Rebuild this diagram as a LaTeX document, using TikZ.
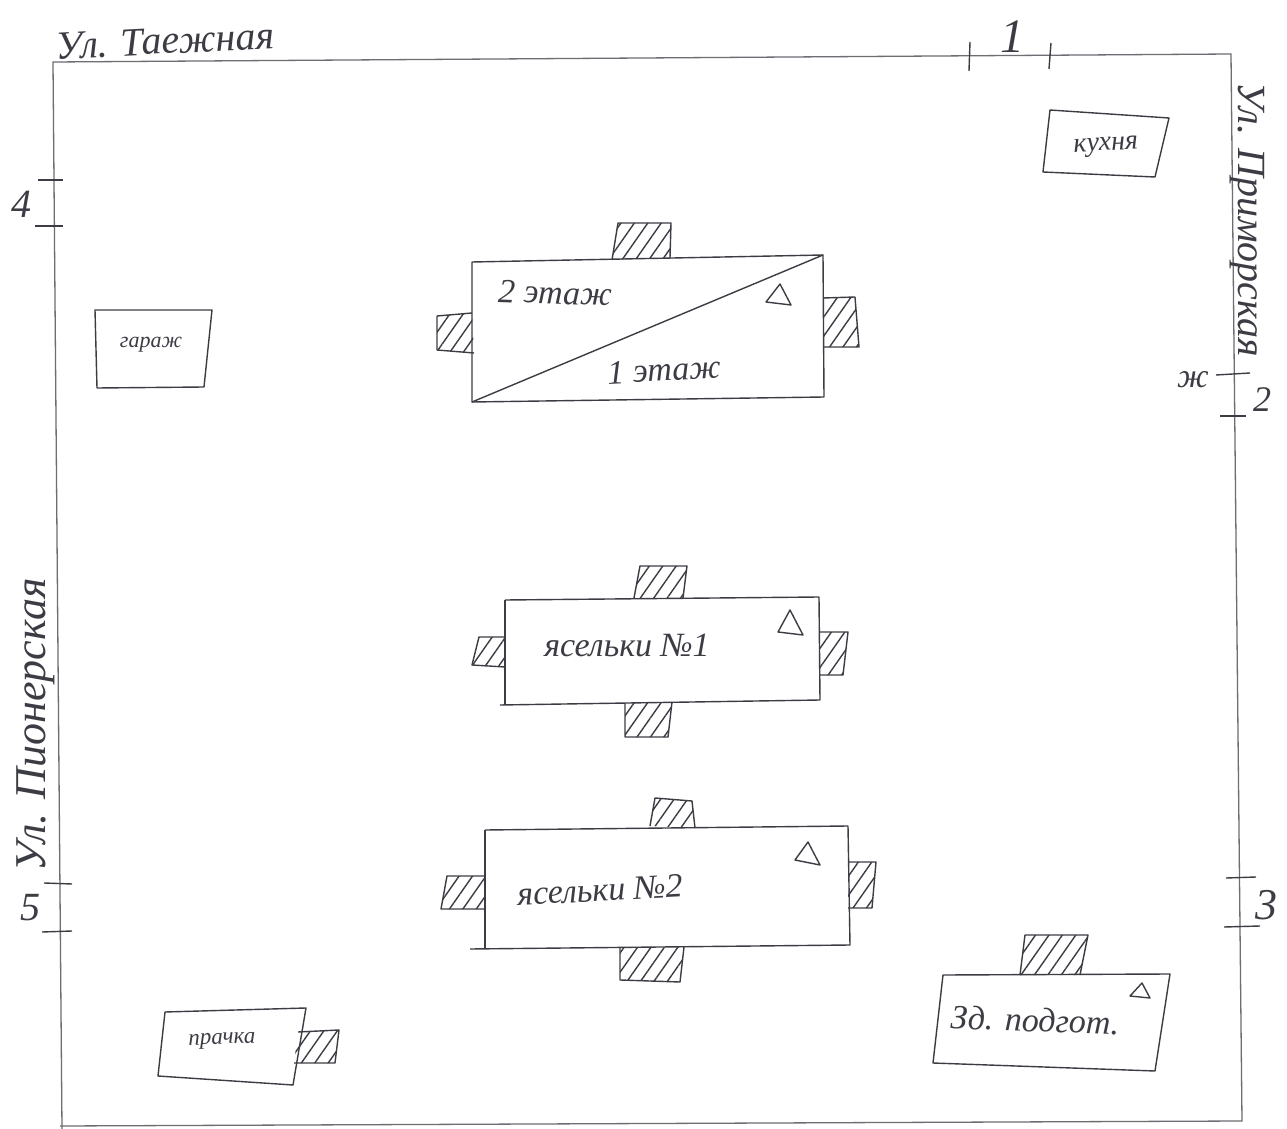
\documentclass[tikz,border=0pt]{standalone}
\usepackage{fontspec}
\setmainfont{Liberation Serif}
\usetikzlibrary{patterns.meta}
\definecolor{ink}{HTML}{3C3C44}
\tikzset{
  x=0.5pt,y=-0.5pt,
  frameline/.style={draw=ink!75,line width=0.65pt},
  wall/.style={draw=ink,line width=0.7pt,line join=round},
  tick/.style={draw=ink,line width=0.7pt},
  hatchbox/.style={draw=ink,line width=0.7pt,line join=round,pattern={Lines[angle=55,distance=#1,line width=0.7pt]},pattern color=ink},
  hatchbox/.default=5.5pt,
  hand/.style={inner sep=0pt,text=ink,font=\itshape\fontsize{#1}{#1}\selectfont},
  hand/.default=15pt,
  tri/.style={draw=ink,line width=0.7pt,line join=round}
}
\begin{document}
\begin{tikzpicture}
\useasboundingbox[fill=white] (0,0) rectangle (1287,1129);
% site boundary
\draw[frameline] (62,1129) -- (53,62) -- (1231,54) -- (1242,1121) -- (60,1126);
% gate ticks
\draw[tick] (970,42) -- (969,71);
\draw[tick] (1051,43) -- (1049,69);
\draw[tick] (1216,375) -- (1250,373);
\draw[tick] (1220,416) -- (1246,416);
\draw[tick] (1226,878) -- (1256,877);
\draw[tick] (1224,927) -- (1260,926);
\draw[tick] (38,180) -- (63,180);
\draw[tick] (35,226) -- (63,226);
\draw[tick] (44,883) -- (72,884);
\draw[tick] (42,932) -- (72,931);
% main building
\draw[hatchbox] (612,260) -- (618,223) -- (671,223) -- (670,258);
\draw[hatchbox] (472,313) -- (437,316) -- (437,350) -- (474,353);
\draw[hatchbox] (823,298) -- (855,297) -- (859,347) -- (823,347);
\draw[wall] (472,262) -- (823,255) -- (824,397) -- (472,402) -- cycle;
\draw[wall] (472,402) -- (823,255);
\draw[tri] (766,302) -- (780,284) -- (791,305) -- cycle;
\node[hand=17pt,rotate=-2] (floortwo) at (555,293) {2 этаж};
\node[hand=17pt,rotate=3] (floorone) at (664,370) {1 этаж};
% nursery 1
\draw[hatchbox] (634,598) -- (640,566) -- (687,566) -- (683,598);
\draw[hatchbox] (505,637) -- (479,637) -- (472,665) -- (505,667);
\draw[hatchbox] (819,632) -- (848,632) -- (843,675) -- (819,675);
\draw[hatchbox] (625,703) -- (625,737) -- (668,737) -- (672,702);
\draw[wall] (505,600) -- (819,597) -- (820,700) -- (500,705);
\draw[wall] (505,600) -- (505,705);
\draw[tri] (778,632) -- (790,610) -- (803,635) -- cycle;
\node[hand=17pt] (nursone) at (627,645) {ясельки №1};
% nursery 2
\draw[hatchbox] (650,826) -- (655,798) -- (692,801) -- (695,828);
\draw[hatchbox] (485,876) -- (447,876) -- (441,909) -- (485,909);
\draw[hatchbox] (848,862) -- (876,862) -- (872,908) -- (848,908);
\draw[hatchbox] (620,948) -- (620,980) -- (680,982) -- (684,947);
\draw[wall] (485,830) -- (848,826) -- (850,945) -- (470,949);
\draw[wall] (485,830) -- (485,949);
\draw[tri] (795,860) -- (808,842) -- (820,865) -- cycle;
\node[hand=17pt,rotate=3] (nurstwo) at (600,890) {ясельки №2};
% small buildings
\draw[wall] (1050,110) -- (1169,118) -- (1155,177) -- (1043,172) -- cycle;
\node[hand=14pt,rotate=3] (kitchen) at (1106,147) {кухня};
\draw[wall] (95,310) -- (212,310) -- (204,387) -- (97,388) -- cycle;
\node[hand=11pt] (garage) at (151,345) {гараж};
\draw[hatchbox] (298,1032) -- (339,1030) -- (335,1063) -- (294,1063);
\draw[wall] (165,1012) -- (306,1008) -- (293,1085) -- (158,1076) -- cycle;
\node[hand=11.5pt,rotate=2] (laundry) at (222,1041) {прачка};
\draw[hatchbox] (1020,975) -- (1025,935) -- (1088,935) -- (1080,975);
\draw[wall] (943,975) -- (1170,974) -- (1155,1071) -- (933,1063) -- cycle;
\draw[tri] (1130,996) -- (1142,983) -- (1150,998) -- cycle;
\node[hand=17pt,rotate=-2] (prep) at (1035,1020) {Зд. подгот.};
% street labels
\node[hand=20pt,rotate=3] (streettop) at (165,41) {Ул. Таежная};
\node[hand=20pt,rotate=-90] (streetright) at (1247,220) {Ул. Приморская};
\node[hand=22pt,rotate=90] (streetleft) at (36,725) {Ул. Пионерская};
% gate numbers
\node[hand=24pt] (gateone) at (1012,37) {1};
\node[hand=18pt] (gatetwo) at (1262,400) {2};
\node[hand=22pt] (gatethree) at (1266,905) {3};
\node[hand=20pt] (gatefour) at (21,204) {4};
\node[hand=20pt] (gatefive) at (30,908) {5};
\node[hand=17pt] (zh) at (1193,380) {ж};
\end{tikzpicture}
\end{document}
